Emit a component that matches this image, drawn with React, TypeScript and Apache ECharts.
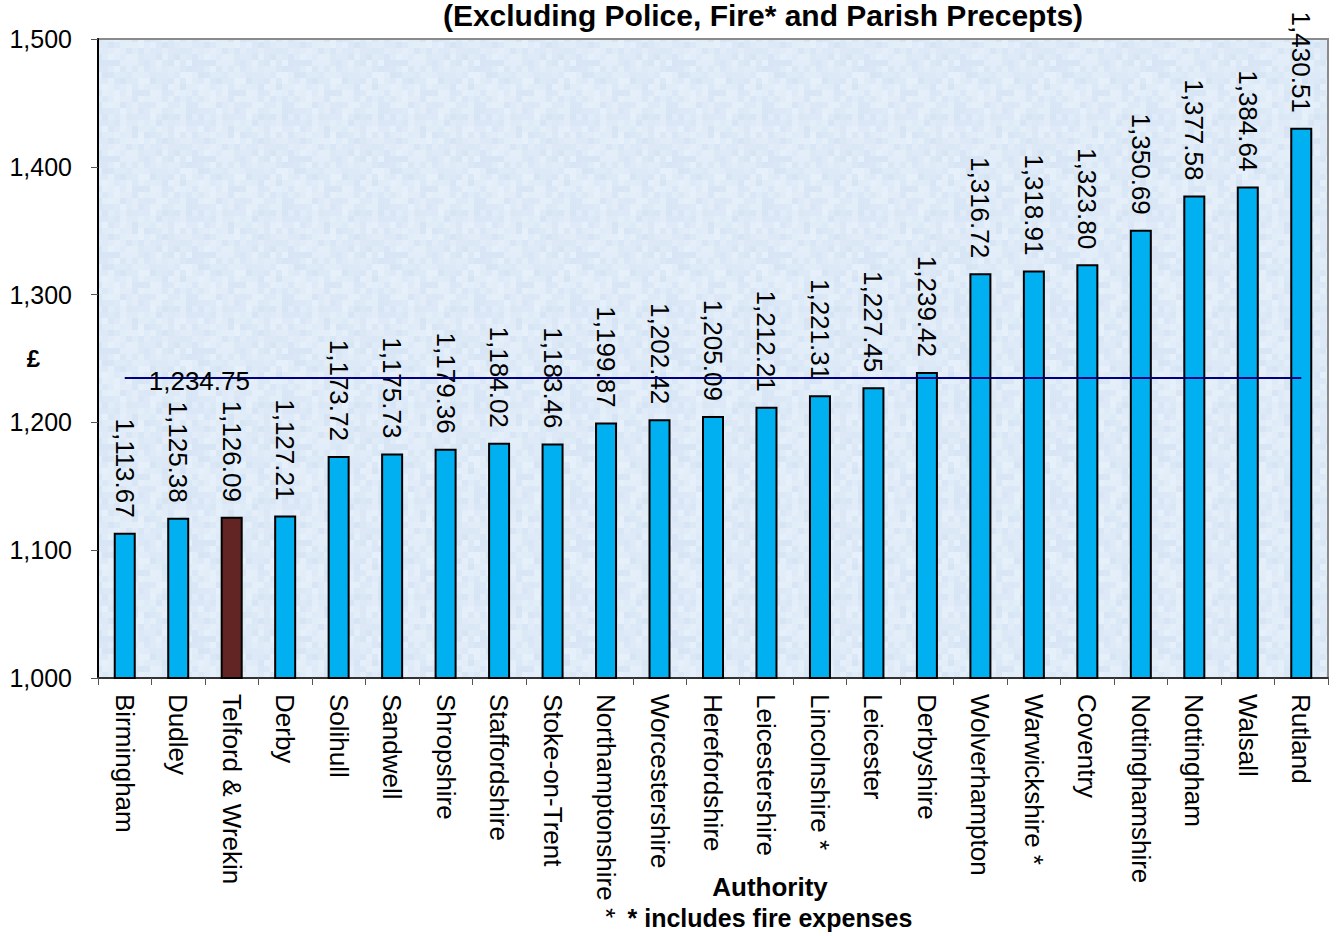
import React, { useEffect, useRef } from "react";
import * as echarts from "echarts";

const categories = [
  "Birmingham", "Dudley", "Telford & Wrekin", "Derby", "Solihull", "Sandwell",
  "Shropshire", "Staffordshire", "Stoke-on-Trent", "Northamptonshire *",
  "Worcestershire", "Herefordshire", "Leicestershire", "Lincolnshire *",
  "Leicester", "Derbyshire", "Wolverhampton", "Warwickshire *", "Coventry",
  "Nottinghamshire", "Nottingham", "Walsall", "Rutland",
];
const values = [
  1113.67, 1125.38, 1126.09, 1127.21, 1173.72, 1175.73, 1179.36, 1184.02,
  1183.46, 1199.87, 1202.42, 1205.09, 1212.21, 1221.31, 1227.45, 1239.42,
  1316.72, 1318.91, 1323.8, 1350.69, 1377.58, 1384.64, 1430.51,
];
const highlighted = "Telford & Wrekin";
const average = 1234.75;
const yTicks = [1000, 1100, 1200, 1300, 1400, 1500];

const FONT = "'Liberation Sans', Arial, sans-serif";
const fmt = (v: number, d: number) =>
  v.toLocaleString("en-GB", { minimumFractionDigits: d, maximumFractionDigits: d });

// Decorative "paper" texture for the plot background (pure styling, not data)
function makeTexture(): HTMLCanvasElement {
  const size = 96, cell = 6;
  const c = document.createElement("canvas");
  c.width = size; c.height = size;
  const ctx = c.getContext("2d")!;
  let s = 12345;
  const next = () => { s = (s * 1103515245 + 12345) & 0x7fffffff; return s / 0x7fffffff; };
  for (let y = 0; y < size; y += cell) {
    for (let x = 0; x < size; x += cell) {
      const d = (next() - 0.5) * 16;
      const r = Math.round(222 + d), g = Math.round(234 + d * 0.8), b = Math.round(247 + d * 0.4);
      ctx.fillStyle = `rgb(${r},${g},${Math.min(255, b)})`;
      ctx.fillRect(x, y, cell, cell);
    }
  }
  return c;
}

export default function App() {
  const ref = useRef<HTMLDivElement>(null);
  useEffect(() => {
    if (!ref.current) return;
    const chart = echarts.init(ref.current, null, { renderer: "svg" });
    let bg: any = "#dde9f6";
    try {
      const tex = makeTexture();
      bg = { image: tex.toDataURL(), repeat: "repeat" };
    } catch (e) {
      bg = "#dde9f6";
    }
    chart.setOption({
      animation: false,
      textStyle: { fontFamily: FONT },
      title: [
        {
          text: "(Excluding Police, Fire* and Parish Precepts)",
          left: 763, top: 0, padding: 0, textAlign: "center",
          textStyle: { fontFamily: FONT, fontSize: 30, fontWeight: "bold", color: "#000" },
        },
        {
          text: "Authority",
          left: 765, top: 869, textAlign: "center",
          textStyle: { fontFamily: FONT, fontSize: 26, fontWeight: "bold", color: "#000" },
        },
        {
          text: "* includes fire expenses",
          left: 765, top: 900, textAlign: "center",
          textStyle: { fontFamily: FONT, fontSize: 25, fontWeight: "bold", color: "#000" },
        },
      ],
      grid: {
        left: 98, right: 11, top: 39, bottom: 258,
        outerBoundsMode: "none", containLabel: false,
        show: true, backgroundColor: bg, borderColor: "#8a8a8a", borderWidth: 2,
      },
      xAxis: {
        type: "category",
        data: categories,
        axisLine: { show: true, lineStyle: { color: "#333", width: 2 } },
        axisTick: { show: true, alignWithLabel: false, length: 7, lineStyle: { color: "#555" } },
        axisLabel: {
          rotate: -90, interval: 0, margin: 16,
          fontFamily: FONT, fontSize: 26, color: "#000",
        },
      },
      yAxis: {
        type: "value",
        min: yTicks[0], max: yTicks[yTicks.length - 1], interval: 100,
        name: "£", nameLocation: "middle", nameRotate: 0, nameGap: 58,
        nameMoveOverlap: false,
        nameTextStyle: { fontFamily: FONT, fontSize: 24, fontWeight: "bold", color: "#000" },
        axisLine: { show: true, lineStyle: { color: "#000", width: 2 } },
        axisTick: { show: true, length: 7, lineStyle: { color: "#555" } },
        splitLine: { show: false },
        axisLabel: {
          margin: 26, fontFamily: FONT, fontSize: 25, color: "#000",
          formatter: (v: number) => fmt(v, 0),
        },
      },
      series: [
        {
          type: "bar",
          barWidth: 22,
          data: values.map((v, i) => ({
            value: v,
            itemStyle: { color: categories[i] === highlighted ? "#632523" : "#00b0f0" },
          })),
          itemStyle: { borderColor: "#000", borderWidth: 2 },
          label: {
            show: true, position: "top", distance: 15, rotate: -90,
            align: "right", verticalAlign: "middle",
            fontFamily: FONT, fontSize: 26, color: "#000",
            formatter: (p: any) => fmt(p.value, 2),
          },
          markLine: {
            silent: true, symbol: "none",
            lineStyle: { color: "#000080", width: 2, type: "solid" },
            label: {
              show: true, position: "insideStartTop", distance: [24, -16],
              fontFamily: FONT, fontSize: 26, color: "#000",
              formatter: () => fmt(average, 2),
            },
            data: [[
              { coord: [0, average] },
              { coord: [categories.length - 1, average] },
            ]],
          },
        },
      ],
    });
    return () => chart.dispose();
  }, []);
  return (
    <div
      ref={ref}
      style={{ position: "fixed", left: 0, top: 0, width: 1339, height: 936, background: "#fff" }}
    />
  );
}
